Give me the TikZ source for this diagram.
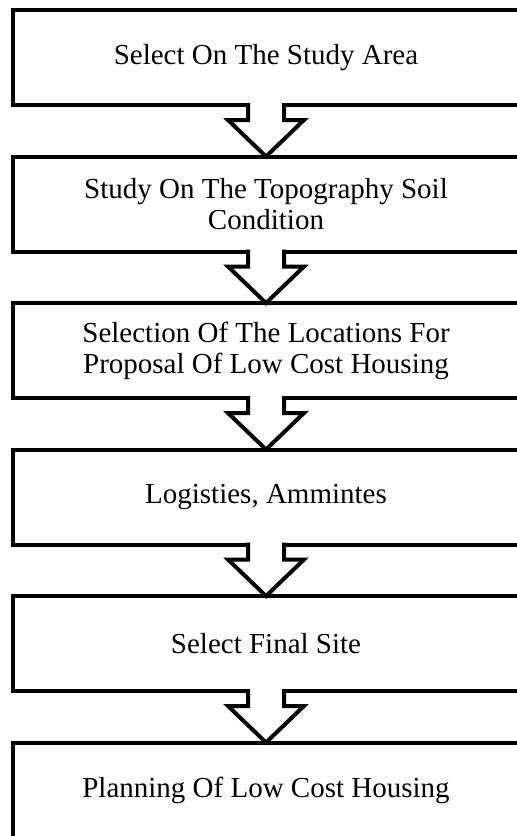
\documentclass[tikz,border=0pt]{standalone}
\usepackage{fontspec}
\setmainfont{Liberation Serif}
\usetikzlibrary{positioning,calc}

\begin{document}
\begin{tikzpicture}[x=1pt, y=1pt,
    stepbox/.style={rectangle, draw, line width=4pt, outer sep=0pt, minimum width=506pt, minimum height=95pt, align=center, font=\fontsize{29}{31}\selectfont},
    blockarrow/.style={draw, fill=white, line width=4pt},
    node distance=51.5pt
]
\clip (0,0) rectangle (517,-836);

\node[stepbox] (box1) at (266,-57.5)  {Select On The Study Area};
\node[stepbox, below=of box1] (box2)  {Study On The Topography Soil\\Condition};
\node[stepbox, below=of box2] (box3)  {Selection Of The Locations For\\Proposal Of Low Cost Housing};
\node[stepbox, below=of box3] (box4)  {Logisties, Ammintes};
\node[stepbox, below=of box4] (box5)  {Select Final Site};
\node[stepbox, below=of box5] (box6)  {Planning Of Low Cost Housing};

% hollow arrows between the steps
\foreach \a/\b in {box1/box2, box2/box3, box3/box4, box4/box5, box5/box6}
    \path[blockarrow] ($(\a.south)+(-18,2)$) -- ++(0,-17) -- ++(-20,0) -- (\b.north)
        -- ($(\a.south)+(38,-15)$) -- ++(-20,0) -- ++(0,17);

\end{tikzpicture}
\end{document}
